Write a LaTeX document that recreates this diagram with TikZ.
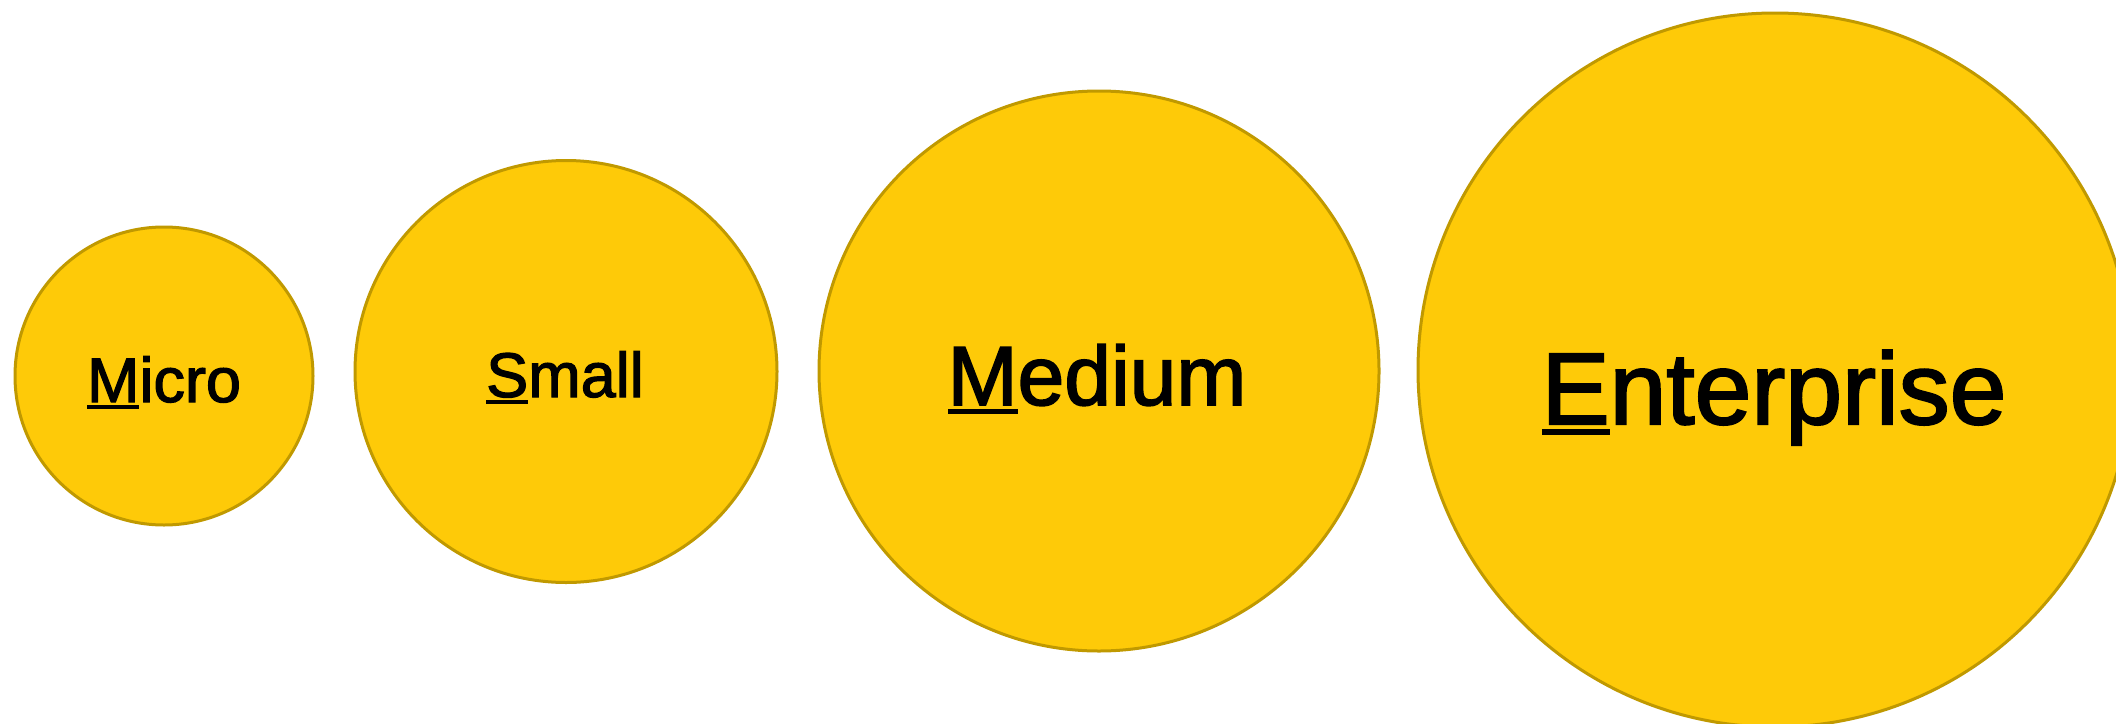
\documentclass[tikz,border=0pt]{standalone}
\usepackage{fontspec}
\setmainfont{Liberation Sans}[BoldFont=Liberation Sans, BoldFeatures={FakeBold=2}]
\definecolor{discfill}{RGB}{254,202,8}
\definecolor{discline}{RGB}{192,153,0}
\newcommand\firstul[1]{\setbox0\hbox{#1}\rlap{\rule[-0.11em]{\wd0}{0.065em}}\box0}
\begin{document}
\begin{tikzpicture}[x=1pt,y=-1pt,
  disc/.style={circle, draw=discline, fill=discfill, line width=3pt, inner sep=0pt},
  lab/.style={anchor=base, inner sep=0pt, text=black}]
\clip (0,0) rectangle (2116,723);
\useasboundingbox (0,0) rectangle (2116,723);
\node[disc, minimum size=298pt] (micro) at (164,376) {};
\node[disc, minimum size=422pt] (small) at (566,371.5) {};
\node[disc, minimum size=560pt] (medium) at (1099,371) {};
\node[disc, minimum size=714pt] (enterprise) at (1775,370) {};
\node[lab, font=\fontsize{63}{70}\bfseries] (microlab) at (164,402) {\firstul{M}icro};
\node[lab, font=\fontsize{63}{70}\bfseries] (smalllab) at (565,397) {\firstul{S}mall};
\node[lab, font=\fontsize{84}{92}\bfseries] (mediumlab) at (1097,405) {\firstul{M}edium};
\node[lab, font=\fontsize{102}{110}\bfseries] (enterpriselab) at (1774,424) {\firstul{E}nterprise};
\end{tikzpicture}
\end{document}
